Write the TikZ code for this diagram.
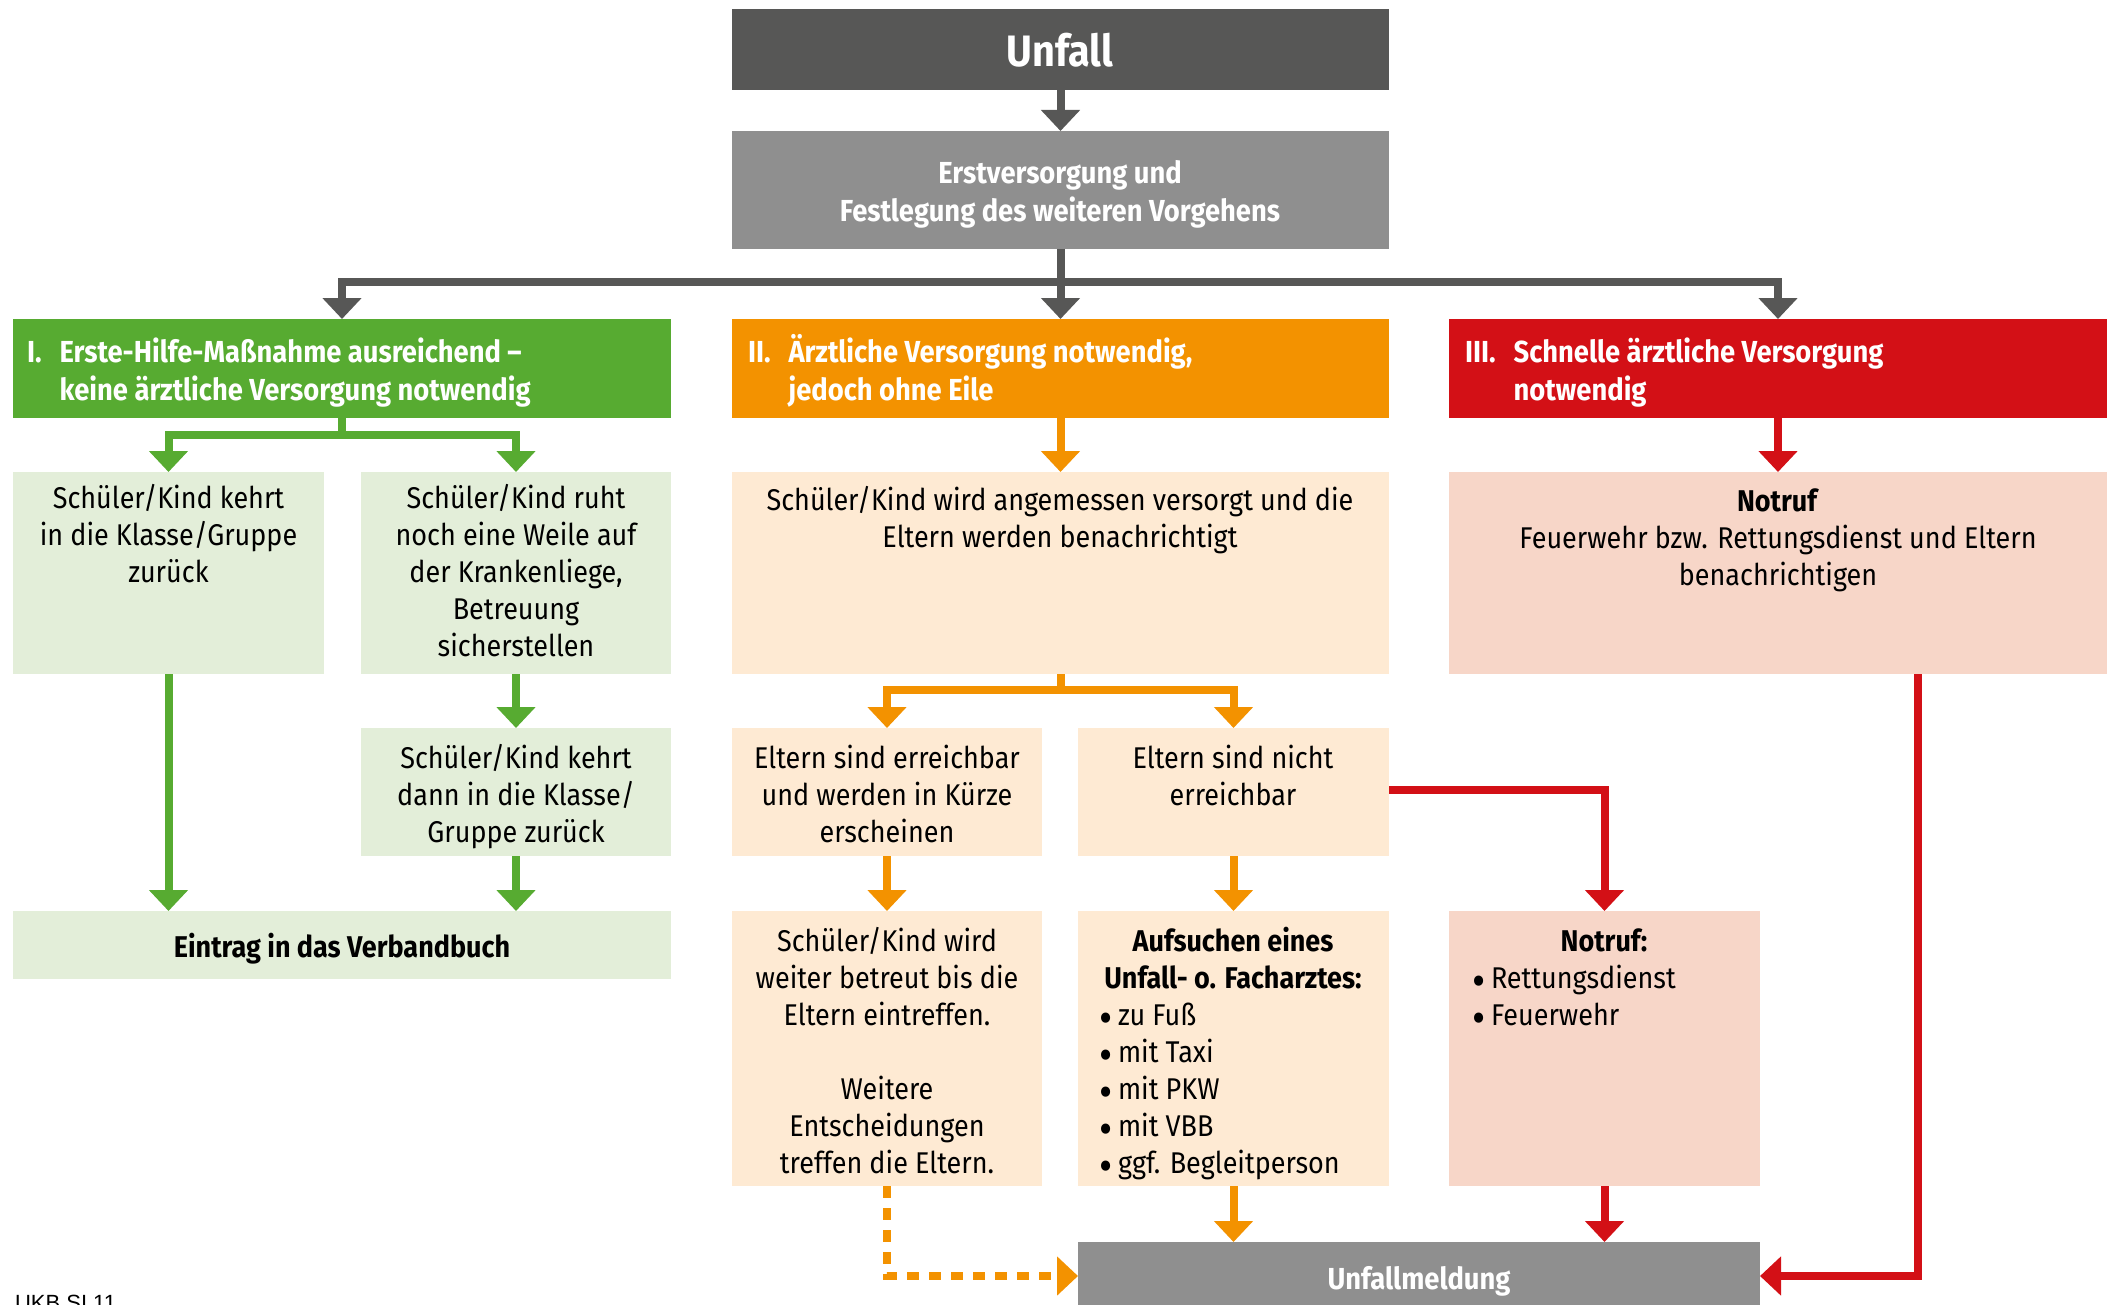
\documentclass[tikz,border=0pt]{standalone}
\usepackage{fontspec}
\setmainfont{Fira Sans}[FakeStretch=0.9]
\newfontfamily\footfont{Liberation Sans}
\usetikzlibrary{arrows.meta,fit,calc}
\definecolor{cdgray}{RGB}{87,87,86}
\definecolor{cmgray}{RGB}{143,143,143}
\definecolor{cgreen}{RGB}{87,171,49}
\definecolor{clgreen}{RGB}{227,238,217}
\definecolor{corange}{RGB}{243,146,0}
\definecolor{clorange}{RGB}{254,234,211}
\definecolor{cred}{RGB}{211,16,22}
\definecolor{clred}{RGB}{247,214,200}
\newcommand\fbody{\fontsize{15}{18.5}\selectfont}
\newcommand\fhead{\fontsize{15.2}{19}\selectfont\bfseries}
\newcommand\ctab[1]{\begin{tabular}[t]{@{}c@{}}#1\end{tabular}}
\newcommand\ltab[1]{\begin{tabular}[t]{@{}l@{}}#1\end{tabular}}
\newcommand\htab[3]{\begin{tabular}[t]{@{}l@{\hspace{9pt}}l@{}}#1&#2\\&#3\end{tabular}}
\newcommand\bul{\makebox[9.5pt][l]{\raisebox{-0.55ex}[0.6ex][0pt]{\scalebox{1.5}{\textbullet}}}}
\tikzset{
  box/.style={inner sep=0pt, outer sep=0pt, draw=none},
  txt/.style={inner sep=0pt, outer sep=0pt, anchor=base, font=\fbody, text=black},
  wtxt/.style={inner sep=0pt, outer sep=0pt, anchor=base west, font=\fhead, text=white},
  ln/.style={line width=4pt, line join=miter},
  arr/.style={ln, -{Triangle[width=19pt,length=10.5pt]}}
}
\begin{document}
\begin{tikzpicture}[x=0.5pt,y=-0.5pt]
\useasboundingbox (0,0) rectangle (2114,1305);
% boxes
\node[box, fill=cdgray, fit={(732,9) (1389,90)}] (unfall) {};
\node[box, fill=cmgray, fit={(732,131) (1389,249)}] (erst) {};
\node[box, fill=cgreen, fit={(13,319) (671,418)}] (h1) {};
\node[box, fill=corange, fit={(732,319) (1389,418)}] (h2) {};
\node[box, fill=cred, fit={(1449,319) (2107,418)}] (h3) {};
\node[box, fill=clgreen, fit={(13,472) (324,674)}] (g1) {};
\node[box, fill=clgreen, fit={(361,472) (671,674)}] (g2) {};
\node[box, fill=clgreen, fit={(361,728) (671,856)}] (g3) {};
\node[box, fill=clgreen, fit={(13,911) (671,979)}] (vb) {};
\node[box, fill=clorange, fit={(732,472) (1389,674)}] (o1) {};
\node[box, fill=clorange, fit={(732,728) (1042,856)}] (o2) {};
\node[box, fill=clorange, fit={(1078,728) (1389,856)}] (o3) {};
\node[box, fill=clorange, fit={(732,911) (1042,1186)}] (o4) {};
\node[box, fill=clorange, fit={(1078,911) (1389,1186)}] (o5) {};
\node[box, fill=clred, fit={(1449,472) (2107,674)}] (r1) {};
\node[box, fill=clred, fit={(1449,911) (1760,1186)}] (r2) {};
\node[box, fill=cmgray, fit={(1078,1242) (1760,1310)}] (um) {};
% texts
\node[txt, font=\fontsize{22}{26}\selectfont\bfseries, text=white] (tunfall) at (1060,67) {Unfall};
\node[txt, font=\fhead, text=white] (terst) at (1060,184) {\ctab{Erstversorgung und\\Festlegung des weiteren Vorgehens}};
\node[wtxt] (th1) at (27,362) {\htab{I.}{Erste-Hilfe-Maßnahme ausreichend --}{keine ärztliche Versorgung notwendig}};
\node[wtxt] (th2) at (748,362) {\htab{II.}{Ärztliche Versorgung notwendig,}{jedoch ohne Eile}};
\node[wtxt] (th3) at (1465,362) {\htab{III.}{Schnelle ärztliche Versorgung}{notwendig}};
\node[txt] (tg1) at (168.5,508) {\ctab{Schüler/Kind kehrt\\in die Klasse/Gruppe\\zurück}};
\node[txt] (tg2) at (516,508) {\ctab{Schüler/Kind ruht\\noch eine Weile auf\\der Krankenliege,\\Betreuung\\sicherstellen}};
\node[txt] (tg3) at (516,768) {\ctab{Schüler/Kind kehrt\\dann in die Klasse/\\Gruppe zurück}};
\node[txt, font=\fbody\bfseries] (tvb) at (342,957) {Eintrag in das Verbandbuch};
\node[txt] (to1) at (1060,510) {\ctab{Schüler/Kind wird angemessen versorgt und die\\Eltern werden benachrichtigt}};
\node[txt] (to2) at (887,768) {\ctab{Eltern sind erreichbar\\und werden in Kürze\\erscheinen}};
\node[txt] (to3) at (1233,768) {\ctab{Eltern sind nicht\\erreichbar}};
\node[txt] (to4) at (887,951) {\ctab{Schüler/Kind wird\\weiter betreut bis die\\Eltern eintreffen.\\ \\Weitere\\Entscheidungen\\treffen die Eltern.}};
\node[txt, font=\fbody\bfseries] (to5) at (1233,951) {\ctab{Aufsuchen eines\\Unfall- o. Facharztes:}};
\node[txt, anchor=base west] (to5l) at (1099,1025) {\ltab{\bul zu Fuß\\\bul mit Taxi\\\bul mit PKW\\\bul mit VBB\\\bul ggf. Begleitperson}};
\node[txt] (tr1) at (1778,511) {\ctab{\textbf{Notruf}\\Feuerwehr bzw. Rettungsdienst und Eltern\\benachrichtigen}};
\node[txt, font=\fbody\bfseries] (tr2) at (1604,951) {Notruf:};
\node[txt, anchor=base west] (tr2l) at (1472,988) {\ltab{\bul Rettungsdienst\\\bul Feuerwehr}};
\node[txt, font=\fhead, text=white] (tum) at (1419,1289) {Unfallmeldung};
\node[txt, anchor=base west, font=\footfont\fontsize{11}{13}\selectfont] (tfoot) at (15,1310) {UKB SI 11};
% connectors gray
\coordinate (bar) at (1060.5,282);
\draw[arr, cdgray] (unfall) -- (erst);
\draw[ln, cdgray] (erst.south) -- (bar);
\draw[arr, cdgray] (bar) -| (h1.north);
\draw[arr, cdgray] (bar) -| (h3.north);
\draw[arr, cdgray] (bar) -- (h2.north);
% green
\coordinate (gb) at (342,435);
\draw[ln, cgreen] (h1.south) -- (gb);
\draw[arr, cgreen] (gb) -| (g1.north);
\draw[arr, cgreen] (gb) -| (g2.north);
\draw[arr, cgreen] (g1.south) -- (g1.south |- vb.north);
\draw[arr, cgreen] (g2) -- (g3);
\draw[arr, cgreen] (g3.south) -- (g3.south |- vb.north);
% orange
\coordinate (ob) at (1060.5,690);
\draw[arr, corange] (h2) -- (o1);
\draw[ln, corange] (o1.south) -- (ob);
\draw[arr, corange] (ob) -| (o2.north);
\draw[arr, corange] (ob) -| (o3.north);
\draw[arr, corange] (o2) -- (o4);
\draw[arr, corange] (o3) -- (o5);
\draw[arr, corange] (o5.south) -- (o5.south |- um.north);
\draw[arr, corange, dash pattern=on 6pt off 5pt] (o4.south) |- (um.west);
% red
\coordinate (rx) at (1918,0);
\draw[arr, cred] (h3) -- (r1);
\draw[arr, cred] ([yshift=1pt]o3.east) -| (r2.north);
\draw[arr, cred] (r2.south) -- (r2.south |- um.north);
\draw[arr, cred] (r1.south -| rx) |- (um.east);
\end{tikzpicture}
\end{document}
